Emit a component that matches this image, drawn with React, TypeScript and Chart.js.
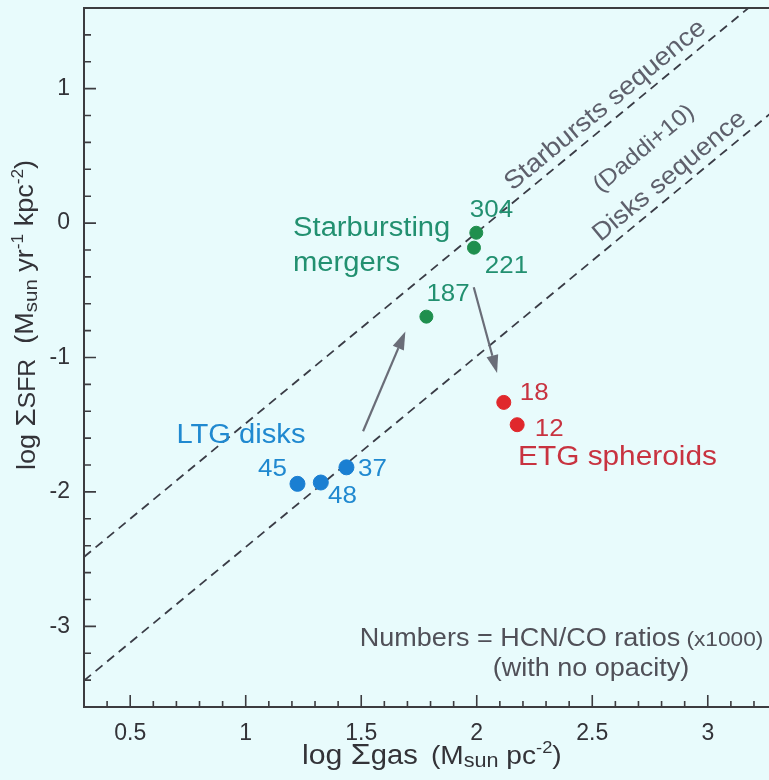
import React, { useEffect, useRef } from "react";
import { Chart, registerables } from "chart.js";

Chart.register(...registerables);

// ---------- data ----------
const xTicks = [0.5, 1, 1.5, 2, 2.5, 3];
const yTicks = [-3, -2, -1, 0, 1];
const xMinorTicks = [0.4, 0.6, 0.7, 0.8, 0.9, 1.1, 1.2, 1.3, 1.4, 1.6, 1.7, 1.8, 1.9, 2.1, 2.2, 2.3, 2.4, 2.6, 2.7, 2.8, 2.9, 3.1, 3.2];
const yMinorTicks = [-3.4, -3.2, -2.8, -2.6, -2.4, -2.2, -1.8, -1.6, -1.4, -1.2, -0.8, -0.6, -0.4, -0.2, 0.2, 0.4, 0.6, 0.8, 1.2, 1.4];

const ltgX = [1.224, 1.325, 1.436];
const ltgY = [-1.94, -1.93, -1.817];
const ltgRatios = ["45", "48", "37"];

const mergerX = [1.998, 1.988, 1.782];
const mergerY = [-0.072, -0.183, -0.696];
const mergerRatios = ["304", "221", "187"];

const etgX = [2.117, 2.175];
const etgY = [-1.334, -1.5];
const etgRatios = ["18", "12"];

const disksLineX = [0.3, 3.3];
const disksLineY = [-3.404, 0.856];
const starburstLineX = [0.3, 3.3];
const starburstLineY = [-2.484, 1.776];

const arrowFromX = [1.508, 1.987];
const arrowFromY = [-1.549, -0.477];
const arrowToX = [1.691, 2.088];
const arrowToY = [-0.807, -1.116];

// ---------- styles / positions ----------
const FONT = '"Liberation Sans", Arial, Helvetica, sans-serif';
const SX = 1.08;
const BG = "#e8fbfc";
const AXIS = "#3c3c40";
const GREEN_PT = "#1f8f4e";
const GREEN_TX = "#229070";
const BLUE_PT = "#1a7fd2";
const BLUE_TX = "#2089d0";
const RED_PT = "#e0282c";
const RED_TX = "#c83340";
const GRAY_TX = "#5e606c";
const NOTE_TX = "#505058";

type Run = { t: string; size: number; dy?: number; dx?: number };
type Label = { runs: Run[]; x: number; y: number; color: string };

const numberLabelPos: Record<string, [number, number]> = {
  "304": [1.97, 0.0445],
  "221": [2.035, -0.369],
  "187": [1.782, -0.579],
  "45": [1.053, -1.883],
  "48": [1.356, -2.081],
  "37": [1.486, -1.883],
  "18": [2.186, -1.314],
  "12": [2.251, -1.586],
};

const groupLabels: Label[] = [
  { runs: [{ t: "Starbursting", size: 27 }], x: 1.205, y: -0.0965, color: GREEN_TX },
  { runs: [{ t: "mergers", size: 27 }], x: 1.205, y: -0.356, color: GREEN_TX },
  { runs: [{ t: "LTG disks", size: 27 }], x: 0.7, y: -1.635, color: BLUE_TX },
  { runs: [{ t: "ETG spheroids", size: 27.6 }], x: 2.179, y: -1.797, color: RED_TX },
  { runs: [{ t: "Numbers = HCN/CO ratios", size: 25 }, { t: " (x1000)", size: 21 }], x: 1.494, y: -3.144, color: NOTE_TX },
  { runs: [{ t: "(with no opacity)", size: 25 }], x: 2.069, y: -3.366, color: NOTE_TX },
];

const lineLabels = [
  { text: "Starbursts sequence", line: 1, at: 2.18, off: 9, size: 25.5 },
  { text: "(Daddi+10)", line: 0, at: 2.665, off: 47, size: 23 },
  { text: "Disks sequence", line: 0, at: 2.56, off: 9, size: 25 },
];

function drawRuns(ctx: CanvasRenderingContext2D, x: number, y: number, runs: Run[], angle: number, color: string) {
  ctx.save();
  ctx.translate(x, y);
  ctx.rotate(angle);
  ctx.scale(SX, 1);
  ctx.fillStyle = color;
  ctx.textAlign = "left";
  ctx.textBaseline = "alphabetic";
  let cx = 0;
  for (const r of runs) {
    ctx.font = `${r.size}px ${FONT}`;
    cx += r.dx || 0;
    ctx.fillText(r.t, cx, r.dy || 0);
    cx += ctx.measureText(r.t).width;
  }
  ctx.restore();
}

const zeroPad = (s: any) => {
  s.paddingTop = 0;
  s.paddingBottom = 0;
  s.paddingLeft = 0;
  s.paddingRight = 0;
};

const decorPlugin = {
  id: "decor",
  beforeDraw(chart: any) {
    const ctx = chart.ctx as CanvasRenderingContext2D;
    ctx.save();
    ctx.fillStyle = BG;
    ctx.fillRect(0, 0, chart.width, chart.height);
    ctx.restore();
  },
  afterDatasetsDraw(chart: any) {
    const ctx = chart.ctx as CanvasRenderingContext2D;
    const xs = chart.scales.x;
    const ys = chart.scales.y;
    const ca = chart.chartArea;
    const px = (v: number) => xs.getPixelForValue(v);
    const py = (v: number) => ys.getPixelForValue(v);

    // arrows
    ctx.save();
    ctx.strokeStyle = "#6a6d78";
    ctx.fillStyle = "#6a6d78";
    ctx.lineWidth = 2.2;
    for (let i = 0; i < arrowFromX.length; i++) {
      const x0 = px(arrowFromX[i]), y0 = py(arrowFromY[i]);
      const x1 = px(arrowToX[i]), y1 = py(arrowToY[i]);
      const a = Math.atan2(y1 - y0, x1 - x0);
      const hl = 18, hw = 6;
      const bx = x1 - hl * Math.cos(a), by = y1 - hl * Math.sin(a);
      ctx.beginPath();
      ctx.moveTo(x0, y0);
      ctx.lineTo(bx, by);
      ctx.stroke();
      ctx.beginPath();
      ctx.moveTo(x1, y1);
      ctx.lineTo(bx + hw * Math.sin(a), by - hw * Math.cos(a));
      ctx.lineTo(bx - hw * Math.sin(a), by + hw * Math.cos(a));
      ctx.closePath();
      ctx.fill();
    }
    ctx.restore();

    // axes frame
    ctx.save();
    ctx.strokeStyle = AXIS;
    ctx.lineWidth = 2;
    ctx.beginPath();
    ctx.moveTo(chart.width, ca.top);
    ctx.lineTo(ca.left, ca.top);
    ctx.lineTo(ca.left, ca.bottom);
    ctx.lineTo(chart.width, ca.bottom);
    ctx.stroke();
    ctx.lineWidth = 1.6;
    ctx.beginPath();
    for (const v of xTicks) {
      ctx.moveTo(px(v), ca.bottom);
      ctx.lineTo(px(v), ca.bottom - 12);
    }
    for (const v of xMinorTicks) {
      ctx.moveTo(px(v), ca.bottom);
      ctx.lineTo(px(v), ca.bottom - 6);
    }
    for (const v of yTicks) {
      ctx.moveTo(ca.left, py(v));
      ctx.lineTo(ca.left + 12, py(v));
    }
    for (const v of yMinorTicks) {
      ctx.moveTo(ca.left, py(v));
      ctx.lineTo(ca.left + 7, py(v));
    }
    ctx.stroke();
    ctx.restore();

    // labels on the sequence lines
    const lines = [
      [disksLineX, disksLineY],
      [starburstLineX, starburstLineY],
    ];
    for (const l of lineLabels) {
      const [lx, ly] = lines[l.line];
      const ax = px(lx[0]), ay = py(ly[0]), bx = px(lx[1]), by = py(ly[1]);
      const ang = Math.atan2(by - ay, bx - ax);
      const t = (l.at - lx[0]) / (lx[1] - lx[0]);
      const yv = ly[0] + t * (ly[1] - ly[0]);
      const x0 = px(l.at) + l.off * Math.sin(ang);
      const y0 = py(yv) - l.off * Math.cos(ang);
      drawRuns(ctx, x0, y0, [{ t: l.text, size: l.size }], ang, GRAY_TX);
    }

    // ratio numbers
    const groups: [string[], string][] = [
      [ltgRatios, BLUE_TX],
      [mergerRatios, GREEN_TX],
      [etgRatios, RED_TX],
    ];
    for (const [labs, col] of groups) {
      for (const s of labs) {
        const p = numberLabelPos[s];
        drawRuns(ctx, px(p[0]), py(p[1]), [{ t: s, size: 24 }], 0, col);
      }
    }
    for (const g of groupLabels) {
      drawRuns(ctx, px(g.x), py(g.y), g.runs, 0, g.color);
    }

    // axis titles
    drawRuns(ctx, 302, 764, [
      { t: "log ", size: 28 },
      { t: "Σ", size: 30 },
      { t: "gas", size: 27 },
      { t: " (M", size: 26, dx: 5 },
      { t: "sun", size: 20, dy: 3 },
      { t: " pc", size: 26 },
      { t: "-2", size: 17, dy: -11 },
      { t: ")", size: 26 },
    ], 0, "#333338");
    drawRuns(ctx, 35, 470, [
      { t: "log ", size: 25 },
      { t: "Σ", size: 27 },
      { t: "SFR", size: 23 },
      { t: "  (M", size: 25, dy: -2 },
      { t: "sun", size: 19, dy: 2 },
      { t: " yr", size: 25, dy: -2 },
      { t: "-1", size: 16, dy: -12 },
      { t: " kpc", size: 25, dy: -2 },
      { t: "-2", size: 16, dy: -12 },
      { t: ")", size: 25, dy: -2 },
    ], -Math.PI / 2, "#333338");
  },
};

export default function App() {
  const ref = useRef<HTMLCanvasElement | null>(null);
  useEffect(() => {
    if (!ref.current) return;
    const pts = (xs: number[], ys: number[]) => xs.map((x, i) => ({ x, y: ys[i] }));
    const chart = new Chart(ref.current, {
      type: "scatter",
      data: {
        datasets: [
          { label: "LTG disks", data: pts(ltgX, ltgY), backgroundColor: BLUE_PT, borderColor: BLUE_PT, pointRadius: 7.5, order: 1 },
          { label: "Starbursting mergers", data: pts(mergerX, mergerY), backgroundColor: GREEN_PT, borderColor: GREEN_PT, pointRadius: 6.5, order: 1 },
          { label: "ETG spheroids", data: pts(etgX, etgY), backgroundColor: RED_PT, borderColor: RED_PT, pointRadius: 7, order: 1 },
          { type: "line", label: "Disks sequence", data: pts(disksLineX, disksLineY), borderColor: "#3a3c46", borderWidth: 1.8, borderDash: [9, 6], pointRadius: 0, fill: false, order: 5 } as any,
          { type: "line", label: "Starbursts sequence", data: pts(starburstLineX, starburstLineY), borderColor: "#3a3c46", borderWidth: 1.8, borderDash: [9, 6], pointRadius: 0, fill: false, order: 5 } as any,
        ],
      },
      options: {
        animation: false,
        responsive: false,
        devicePixelRatio: 1,
        layout: { autoPadding: false, padding: { top: 8, right: 0, left: 0, bottom: 0 } },
        plugins: { legend: { display: false }, tooltip: { enabled: false } },
        scales: {
          x: {
            type: "linear",
            min: 0.3,
            max: 3.265,
            grid: { display: false, drawTicks: false },
            border: { display: false },
            afterBuildTicks: (s: any) => { s.ticks = xTicks.map((v) => ({ value: v })); },
            afterFit: (s: any) => { s.height = 73; zeroPad(s); },
            ticks: { padding: 13, color: "#333338", font: { family: FONT, size: 23 }, callback: (v: any) => String(v) },
          },
          y: {
            type: "linear",
            min: -3.6,
            max: 1.6,
            grid: { display: false, drawTicks: false },
            border: { display: false },
            afterBuildTicks: (s: any) => { s.ticks = yTicks.map((v) => ({ value: v })); },
            afterFit: (s: any) => { s.width = 84; zeroPad(s); },
            ticks: { padding: 14, color: "#333338", font: { family: FONT, size: 23 }, callback: (v: any) => String(v) },
          },
        },
      },
      plugins: [decorPlugin],
    });
    return () => chart.destroy();
  }, []);
  return (
    <div style={{ position: "fixed", left: 0, top: 0, width: 769, height: 780, background: BG }}>
      <canvas ref={ref} width={769} height={780} style={{ width: 769, height: 780, display: "block" }} />
    </div>
  );
}
